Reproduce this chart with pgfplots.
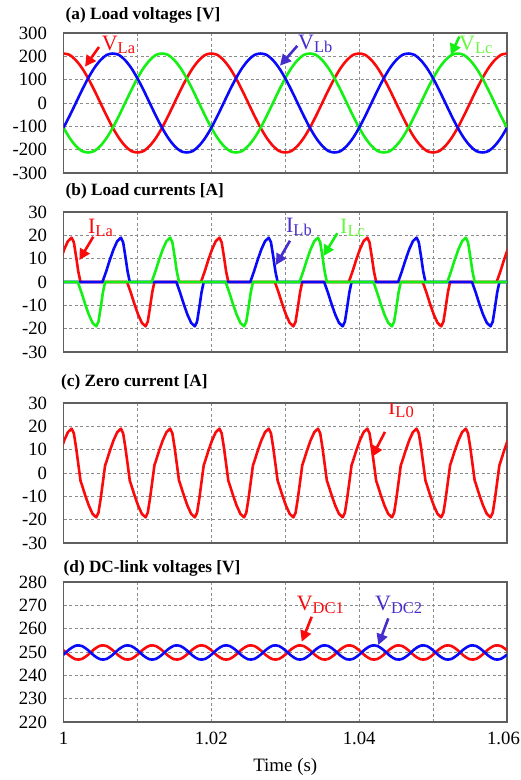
\documentclass[border=0pt]{standalone}
\usepackage{fontspec}
\setmainfont{Liberation Serif}
\usepackage{pgfplots}
\usepackage{pgfplotstable}
\pgfplotsset{compat=1.18}
\usetikzlibrary{arrows.meta}

\definecolor{cr}{RGB}{250,10,10}
\definecolor{cb}{RGB}{10,10,250}
\definecolor{cg}{RGB}{20,240,20}
\definecolor{tb}{RGB}{70,45,205}
\definecolor{tg}{RGB}{100,250,60}
\definecolor{frame}{RGB}{95,95,95}

% voltages (50 Hz) and dc-link voltages sampled every 1/1200 s
\pgfplotstableread[row sep=\\]{
t va vb vc dca dcb\\
1.000000 212 -106 -106 250.76 248.84\\
1.000833 206 -54.9 -149.9 248.39 251.21\\
1.001667 183.6 0 -183.6 246.85 252.75\\
1.002500 149.9 54.9 -206 247.04 252.56\\
1.003333 106 106 -212 248.84 250.76\\
1.004167 54.9 149.9 -206 251.21 248.39\\
1.005000 0 183.6 -183.6 252.75 246.85\\
1.005833 -54.9 206 -149.9 252.56 247.04\\
1.006667 -106 212 -106 250.76 248.84\\
1.007500 -149.9 206 -54.9 248.39 251.21\\
1.008333 -183.6 183.6 0 246.85 252.75\\
1.009167 -206 149.9 54.9 247.04 252.56\\
1.010000 -212 106 106 248.84 250.76\\
1.010833 -206 54.9 149.9 251.21 248.39\\
1.011667 -183.6 0 183.6 252.75 246.85\\
1.012500 -149.9 -54.9 206 252.56 247.04\\
1.013333 -106 -106 212 250.76 248.84\\
1.014167 -54.9 -149.9 206 248.39 251.21\\
1.015000 0 -183.6 183.6 246.85 252.75\\
1.015833 54.9 -206 149.9 247.04 252.56\\
1.016667 106 -212 106 248.84 250.76\\
1.017500 149.9 -206 54.9 251.21 248.39\\
1.018333 183.6 -183.6 0 252.75 246.85\\
1.019167 206 -149.9 -54.9 252.56 247.04\\
1.020000 212 -106 -106 250.76 248.84\\
1.020833 206 -54.9 -149.9 248.39 251.21\\
1.021667 183.6 0 -183.6 246.85 252.75\\
1.022500 149.9 54.9 -206 247.04 252.56\\
1.023333 106 106 -212 248.84 250.76\\
1.024167 54.9 149.9 -206 251.21 248.39\\
1.025000 0 183.6 -183.6 252.75 246.85\\
1.025833 -54.9 206 -149.9 252.56 247.04\\
1.026667 -106 212 -106 250.76 248.84\\
1.027500 -149.9 206 -54.9 248.39 251.21\\
1.028333 -183.6 183.6 0 246.85 252.75\\
1.029167 -206 149.9 54.9 247.04 252.56\\
1.030000 -212 106 106 248.84 250.76\\
1.030833 -206 54.9 149.9 251.21 248.39\\
1.031667 -183.6 0 183.6 252.75 246.85\\
1.032500 -149.9 -54.9 206 252.56 247.04\\
1.033333 -106 -106 212 250.76 248.84\\
1.034167 -54.9 -149.9 206 248.39 251.21\\
1.035000 0 -183.6 183.6 246.85 252.75\\
1.035833 54.9 -206 149.9 247.04 252.56\\
1.036667 106 -212 106 248.84 250.76\\
1.037500 149.9 -206 54.9 251.21 248.39\\
1.038333 183.6 -183.6 0 252.75 246.85\\
1.039167 206 -149.9 -54.9 252.56 247.04\\
1.040000 212 -106 -106 250.76 248.84\\
1.040833 206 -54.9 -149.9 248.39 251.21\\
1.041667 183.6 0 -183.6 246.85 252.75\\
1.042500 149.9 54.9 -206 247.04 252.56\\
1.043333 106 106 -212 248.84 250.76\\
1.044167 54.9 149.9 -206 251.21 248.39\\
1.045000 0 183.6 -183.6 252.75 246.85\\
1.045833 -54.9 206 -149.9 252.56 247.04\\
1.046667 -106 212 -106 250.76 248.84\\
1.047500 -149.9 206 -54.9 248.39 251.21\\
1.048333 -183.6 183.6 0 246.85 252.75\\
1.049167 -206 149.9 54.9 247.04 252.56\\
1.050000 -212 106 106 248.84 250.76\\
1.050833 -206 54.9 149.9 251.21 248.39\\
1.051667 -183.6 0 183.6 252.75 246.85\\
1.052500 -149.9 -54.9 206 252.56 247.04\\
1.053333 -106 -106 212 250.76 248.84\\
1.054167 -54.9 -149.9 206 248.39 251.21\\
1.055000 0 -183.6 183.6 246.85 252.75\\
1.055833 54.9 -206 149.9 247.04 252.56\\
1.056667 106 -212 106 248.84 250.76\\
1.057500 149.9 -206 54.9 251.21 248.39\\
1.058333 183.6 -183.6 0 252.75 246.85\\
1.059167 206 -149.9 -54.9 252.56 247.04\\
1.060000 212 -106 -106 250.76 248.84\\
}\volts

% load currents
\pgfplotstableread[row sep=\\]{
t i\\
0.99860 0\\ 0.99910 4.5\\ 0.99960 9.5\\ 1.00010 14\\ 1.00060 17.5\\ 1.00110 19\\ 1.00140 17\\ 1.00170 11\\ 1.00200 4.5\\ 1.00230 0\\
1.00860 0\\ 1.00910 -4.5\\ 1.00960 -9.5\\ 1.01010 -14\\ 1.01060 -17.5\\ 1.01110 -19\\ 1.01140 -17\\ 1.01170 -11\\ 1.01200 -4.5\\ 1.01230 0\\
1.01860 0\\ 1.01910 4.5\\ 1.01960 9.5\\ 1.02010 14\\ 1.02060 17.5\\ 1.02110 19\\ 1.02140 17\\ 1.02170 11\\ 1.02200 4.5\\ 1.02230 0\\
1.02860 0\\ 1.02910 -4.5\\ 1.02960 -9.5\\ 1.03010 -14\\ 1.03060 -17.5\\ 1.03110 -19\\ 1.03140 -17\\ 1.03170 -11\\ 1.03200 -4.5\\ 1.03230 0\\
1.03860 0\\ 1.03910 4.5\\ 1.03960 9.5\\ 1.04010 14\\ 1.04060 17.5\\ 1.04110 19\\ 1.04140 17\\ 1.04170 11\\ 1.04200 4.5\\ 1.04230 0\\
1.04860 0\\ 1.04910 -4.5\\ 1.04960 -9.5\\ 1.05010 -14\\ 1.05060 -17.5\\ 1.05110 -19\\ 1.05140 -17\\ 1.05170 -11\\ 1.05200 -4.5\\ 1.05230 0\\
1.05860 0\\ 1.05910 4.5\\ 1.05960 9.5\\ 1.06010 14\\
}\ila

\pgfplotstableread[row sep=\\]{
t i\\
0.99900 0\\
1.00527 0\\ 1.00577 4.5\\ 1.00627 9.5\\ 1.00677 14\\ 1.00727 17.5\\ 1.00777 19\\ 1.00807 17\\ 1.00837 11\\ 1.00867 4.5\\ 1.00897 0\\
1.01527 0\\ 1.01577 -4.5\\ 1.01627 -9.5\\ 1.01677 -14\\ 1.01727 -17.5\\ 1.01777 -19\\ 1.01807 -17\\ 1.01837 -11\\ 1.01867 -4.5\\ 1.01897 0\\
1.02527 0\\ 1.02577 4.5\\ 1.02627 9.5\\ 1.02677 14\\ 1.02727 17.5\\ 1.02777 19\\ 1.02807 17\\ 1.02837 11\\ 1.02867 4.5\\ 1.02897 0\\
1.03527 0\\ 1.03577 -4.5\\ 1.03627 -9.5\\ 1.03677 -14\\ 1.03727 -17.5\\ 1.03777 -19\\ 1.03807 -17\\ 1.03837 -11\\ 1.03867 -4.5\\ 1.03897 0\\
1.04527 0\\ 1.04577 4.5\\ 1.04627 9.5\\ 1.04677 14\\ 1.04727 17.5\\ 1.04777 19\\ 1.04807 17\\ 1.04837 11\\ 1.04867 4.5\\ 1.04897 0\\
1.05527 0\\ 1.05577 -4.5\\ 1.05627 -9.5\\ 1.05677 -14\\ 1.05727 -17.5\\ 1.05777 -19\\ 1.05807 -17\\ 1.05837 -11\\ 1.05867 -4.5\\ 1.05897 0\\
1.06100 0\\
}\ilb

\pgfplotstableread[row sep=\\]{
t i\\
0.99900 0\\
1.00193 0\\ 1.00243 -4.5\\ 1.00293 -9.5\\ 1.00343 -14\\ 1.00393 -17.5\\ 1.00443 -19\\ 1.00473 -17\\ 1.00503 -11\\ 1.00533 -4.5\\ 1.00563 0\\
1.01193 0\\ 1.01243 4.5\\ 1.01293 9.5\\ 1.01343 14\\ 1.01393 17.5\\ 1.01443 19\\ 1.01473 17\\ 1.01503 11\\ 1.01533 4.5\\ 1.01563 0\\
1.02193 0\\ 1.02243 -4.5\\ 1.02293 -9.5\\ 1.02343 -14\\ 1.02393 -17.5\\ 1.02443 -19\\ 1.02473 -17\\ 1.02503 -11\\ 1.02533 -4.5\\ 1.02563 0\\
1.03193 0\\ 1.03243 4.5\\ 1.03293 9.5\\ 1.03343 14\\ 1.03393 17.5\\ 1.03443 19\\ 1.03473 17\\ 1.03503 11\\ 1.03533 4.5\\ 1.03563 0\\
1.04193 0\\ 1.04243 -4.5\\ 1.04293 -9.5\\ 1.04343 -14\\ 1.04393 -17.5\\ 1.04443 -19\\ 1.04473 -17\\ 1.04503 -11\\ 1.04533 -4.5\\ 1.04563 0\\
1.05193 0\\ 1.05243 4.5\\ 1.05293 9.5\\ 1.05343 14\\ 1.05393 17.5\\ 1.05443 19\\ 1.05473 17\\ 1.05503 11\\ 1.05533 4.5\\ 1.05563 0\\
1.06100 0\\
}\ilc

% zero-sequence current
\pgfplotstableread[row sep=\\]{
t i\\
0.99910 4.5\\ 0.99960 9.5\\ 1.00010 14\\ 1.00060 17.5\\ 1.00110 19\\ 1.00140 17\\ 1.00170 11\\ 1.00200 3.9\\ 1.00230 -3.3\\
1.00243 -4.5\\ 1.00293 -9.5\\ 1.00343 -14\\ 1.00393 -17.5\\ 1.00443 -19\\ 1.00473 -17\\ 1.00503 -11\\ 1.00533 -3.9\\ 1.00563 3.3\\
1.00577 4.5\\ 1.00627 9.5\\ 1.00677 14\\ 1.00727 17.5\\ 1.00777 19\\ 1.00807 17\\ 1.00837 11\\ 1.00867 3.9\\ 1.00897 -3.3\\
1.00910 -4.5\\ 1.00960 -9.5\\ 1.01010 -14\\ 1.01060 -17.5\\ 1.01110 -19\\ 1.01140 -17\\ 1.01170 -11\\ 1.01200 -3.9\\ 1.01230 3.3\\
1.01243 4.5\\ 1.01293 9.5\\ 1.01343 14\\ 1.01393 17.5\\ 1.01443 19\\ 1.01473 17\\ 1.01503 11\\ 1.01533 3.9\\ 1.01563 -3.3\\
1.01577 -4.5\\ 1.01627 -9.5\\ 1.01677 -14\\ 1.01727 -17.5\\ 1.01777 -19\\ 1.01807 -17\\ 1.01837 -11\\ 1.01867 -3.9\\ 1.01897 3.3\\
1.01910 4.5\\ 1.01960 9.5\\ 1.02010 14\\ 1.02060 17.5\\ 1.02110 19\\ 1.02140 17\\ 1.02170 11\\ 1.02200 3.9\\ 1.02230 -3.3\\
1.02243 -4.5\\ 1.02293 -9.5\\ 1.02343 -14\\ 1.02393 -17.5\\ 1.02443 -19\\ 1.02473 -17\\ 1.02503 -11\\ 1.02533 -3.9\\ 1.02563 3.3\\
1.02577 4.5\\ 1.02627 9.5\\ 1.02677 14\\ 1.02727 17.5\\ 1.02777 19\\ 1.02807 17\\ 1.02837 11\\ 1.02867 3.9\\ 1.02897 -3.3\\
1.02910 -4.5\\ 1.02960 -9.5\\ 1.03010 -14\\ 1.03060 -17.5\\ 1.03110 -19\\ 1.03140 -17\\ 1.03170 -11\\ 1.03200 -3.9\\ 1.03230 3.3\\
1.03243 4.5\\ 1.03293 9.5\\ 1.03343 14\\ 1.03393 17.5\\ 1.03443 19\\ 1.03473 17\\ 1.03503 11\\ 1.03533 3.9\\ 1.03563 -3.3\\
1.03577 -4.5\\ 1.03627 -9.5\\ 1.03677 -14\\ 1.03727 -17.5\\ 1.03777 -19\\ 1.03807 -17\\ 1.03837 -11\\ 1.03867 -3.9\\ 1.03897 3.3\\
1.03910 4.5\\ 1.03960 9.5\\ 1.04010 14\\ 1.04060 17.5\\ 1.04110 19\\ 1.04140 17\\ 1.04170 11\\ 1.04200 3.9\\ 1.04230 -3.3\\
1.04243 -4.5\\ 1.04293 -9.5\\ 1.04343 -14\\ 1.04393 -17.5\\ 1.04443 -19\\ 1.04473 -17\\ 1.04503 -11\\ 1.04533 -3.9\\ 1.04563 3.3\\
1.04577 4.5\\ 1.04627 9.5\\ 1.04677 14\\ 1.04727 17.5\\ 1.04777 19\\ 1.04807 17\\ 1.04837 11\\ 1.04867 3.9\\ 1.04897 -3.3\\
1.04910 -4.5\\ 1.04960 -9.5\\ 1.05010 -14\\ 1.05060 -17.5\\ 1.05110 -19\\ 1.05140 -17\\ 1.05170 -11\\ 1.05200 -3.9\\ 1.05230 3.3\\
1.05243 4.5\\ 1.05293 9.5\\ 1.05343 14\\ 1.05393 17.5\\ 1.05443 19\\ 1.05473 17\\ 1.05503 11\\ 1.05533 3.9\\ 1.05563 -3.3\\
1.05577 -4.5\\ 1.05627 -9.5\\ 1.05677 -14\\ 1.05727 -17.5\\ 1.05777 -19\\ 1.05807 -17\\ 1.05837 -11\\ 1.05867 -3.9\\ 1.05897 3.3\\
1.05910 4.5\\ 1.05960 9.5\\ 1.06010 14\\
}\ilzero

\newcommand{\lab}[2]{{\fontsize{22}{22}\selectfont #1}\raisebox{-3bp}{\fontsize{16.5}{16.5}\selectfont #2}}

\tikzset{arr/.style={-{Triangle[length=11bp,width=11bp]}, line width=2.6bp}}

\pgfplotsset{
  panel/.style={
    anchor=north west, width=443.5bp, height=140bp, scale only axis,
    xmin=1, xmax=1.06,
    xtick={1,1.01,1.02,1.03,1.04,1.05,1.06}, xticklabels={},
    scaled ticks=false,
    grid=major,
    grid style={dash pattern=on 3bp off 2.5bp, line width=0.8bp, color=black!45},
    major tick length=0pt,
    axis line style={line width=1.6bp, draw=frame},
    /pgf/number format/assume math mode=true,
    ticklabel style={font=\fontsize{18.8}{18.8}\selectfont},
    yticklabel style={xshift=-13bp},
    xticklabel style={yshift=-7bp},
    title style={anchor=base west, inner sep=0pt,
      font=\bfseries\fontsize{17.3}{17.3}\selectfont},
    every axis plot/.append style={line width=2.6bp, line join=round},
  },
}

\begin{document}
\begin{tikzpicture}
\useasboundingbox (0bp,0bp) rectangle (521bp,-780bp);

% (a) load voltages
\begin{axis}[panel, at={(63.5bp,-33bp)},
  ymin=-300, ymax=300, ytick={-300,-200,...,300},
  title={(a) Load voltages [V]},
  title style={at={(axis description cs:0.0045,1.052)}}]
\addplot[cr, smooth] table[x=t, y=va] {\volts};
\addplot[cg, smooth] table[x=t, y=vc] {\volts};
\addplot[cb, smooth] table[x=t, y=vb] {\volts};
\draw[arr, cr] (axis cs:1.0048,240) -- (axis cs:1.00291,156);
\node[anchor=base west, inner sep=0, text=cr] at (axis cs:1.00517,227) {\lab{V}{La}};
\draw[arr, tb] (axis cs:1.03163,245) -- (axis cs:1.02929,160);
\node[anchor=base west, inner sep=0, text=tb] at (axis cs:1.03173,231) {\lab{V}{Lb}};
\draw[arr, cg] (axis cs:1.05355,284) -- (axis cs:1.05238,206);
\node[anchor=base west, inner sep=0, text=tg] at (axis cs:1.05351,223) {\lab{V}{Lc}};
\end{axis}

% (b) load currents
\begin{axis}[panel, at={(63.5bp,-212bp)},
  ymin=-30, ymax=30, ytick={-30,-20,...,30},
  title={(b) Load currents [A]},
  title style={at={(axis description cs:0.0045,1.072)}}]
\addplot[cr] table[x=t, y=i] {\ila};
\addplot[cb] table[x=t, y=i] {\ilb};
\addplot[cg] table[x=t, y=i] {\ilc};
\draw[arr, cr] (axis cs:1.00403,19.4) -- (axis cs:1.00214,9.4);
\node[anchor=base west, inner sep=0, text=cr] at (axis cs:1.00331,21) {\lab{I}{La}};
\draw[arr, tb] (axis cs:1.03064,17.7) -- (axis cs:1.02875,7.3);
\node[anchor=base west, inner sep=0, text=tb] at (axis cs:1.0301,21.1) {\lab{I}{Lb}};
\draw[arr, cg] (axis cs:1.03704,20.9) -- (axis cs:1.03515,11.1);
\node[anchor=base west, inner sep=0, text=tg] at (axis cs:1.03741,21) {\lab{I}{Lc}};
\end{axis}

% (c) zero current
\begin{axis}[panel, at={(63.5bp,-403bp)},
  ymin=-30, ymax=30, ytick={-30,-20,...,30},
  title={(c) Zero current [A]},
  title style={at={(axis description cs:-0.0056,1.078)}}]
\addplot[cr] table[x=t, y=i] {\ilzero};
\draw[arr, cr] (axis cs:1.04349,17.6) -- (axis cs:1.04174,6.9);
\node[anchor=base west, inner sep=0, text=cr] at (axis cs:1.0439,25.2) {\lab{I}{L0}};
\end{axis}

% (d) dc-link voltages
\begin{axis}[panel, at={(63.5bp,-582bp)},
  ymin=220, ymax=280, ytick={220,230,...,280},
  xticklabels={1,,1.02,,1.04,,1.06\hspace*{7bp}},
  xlabel={Time (s)},
  xlabel style={at={(axis description cs:0.5,-0.357)}, anchor=base,
    font=\fontsize{19}{19}\selectfont},
  title={(d) DC-link voltages [V]},
  title style={at={(axis description cs:0,1.025)}}]
\addplot[cr, smooth] table[x=t, y=dca] {\volts};
\addplot[cb, smooth] table[x=t, y=dcb] {\volts};
\draw[arr, cr] (axis cs:1.03358,265.1) -- (axis cs:1.03223,254.4);
\node[anchor=base west, inner sep=0, text=cr] at (axis cs:1.03155,268) {\lab{V}{DC1}};
\draw[arr, tb] (axis cs:1.04394,264.4) -- (axis cs:1.04259,253);
\node[anchor=base west, inner sep=0, text=tb] at (axis cs:1.04214,268) {\lab{V}{DC2}};
\end{axis}
\end{tikzpicture}
\end{document}
